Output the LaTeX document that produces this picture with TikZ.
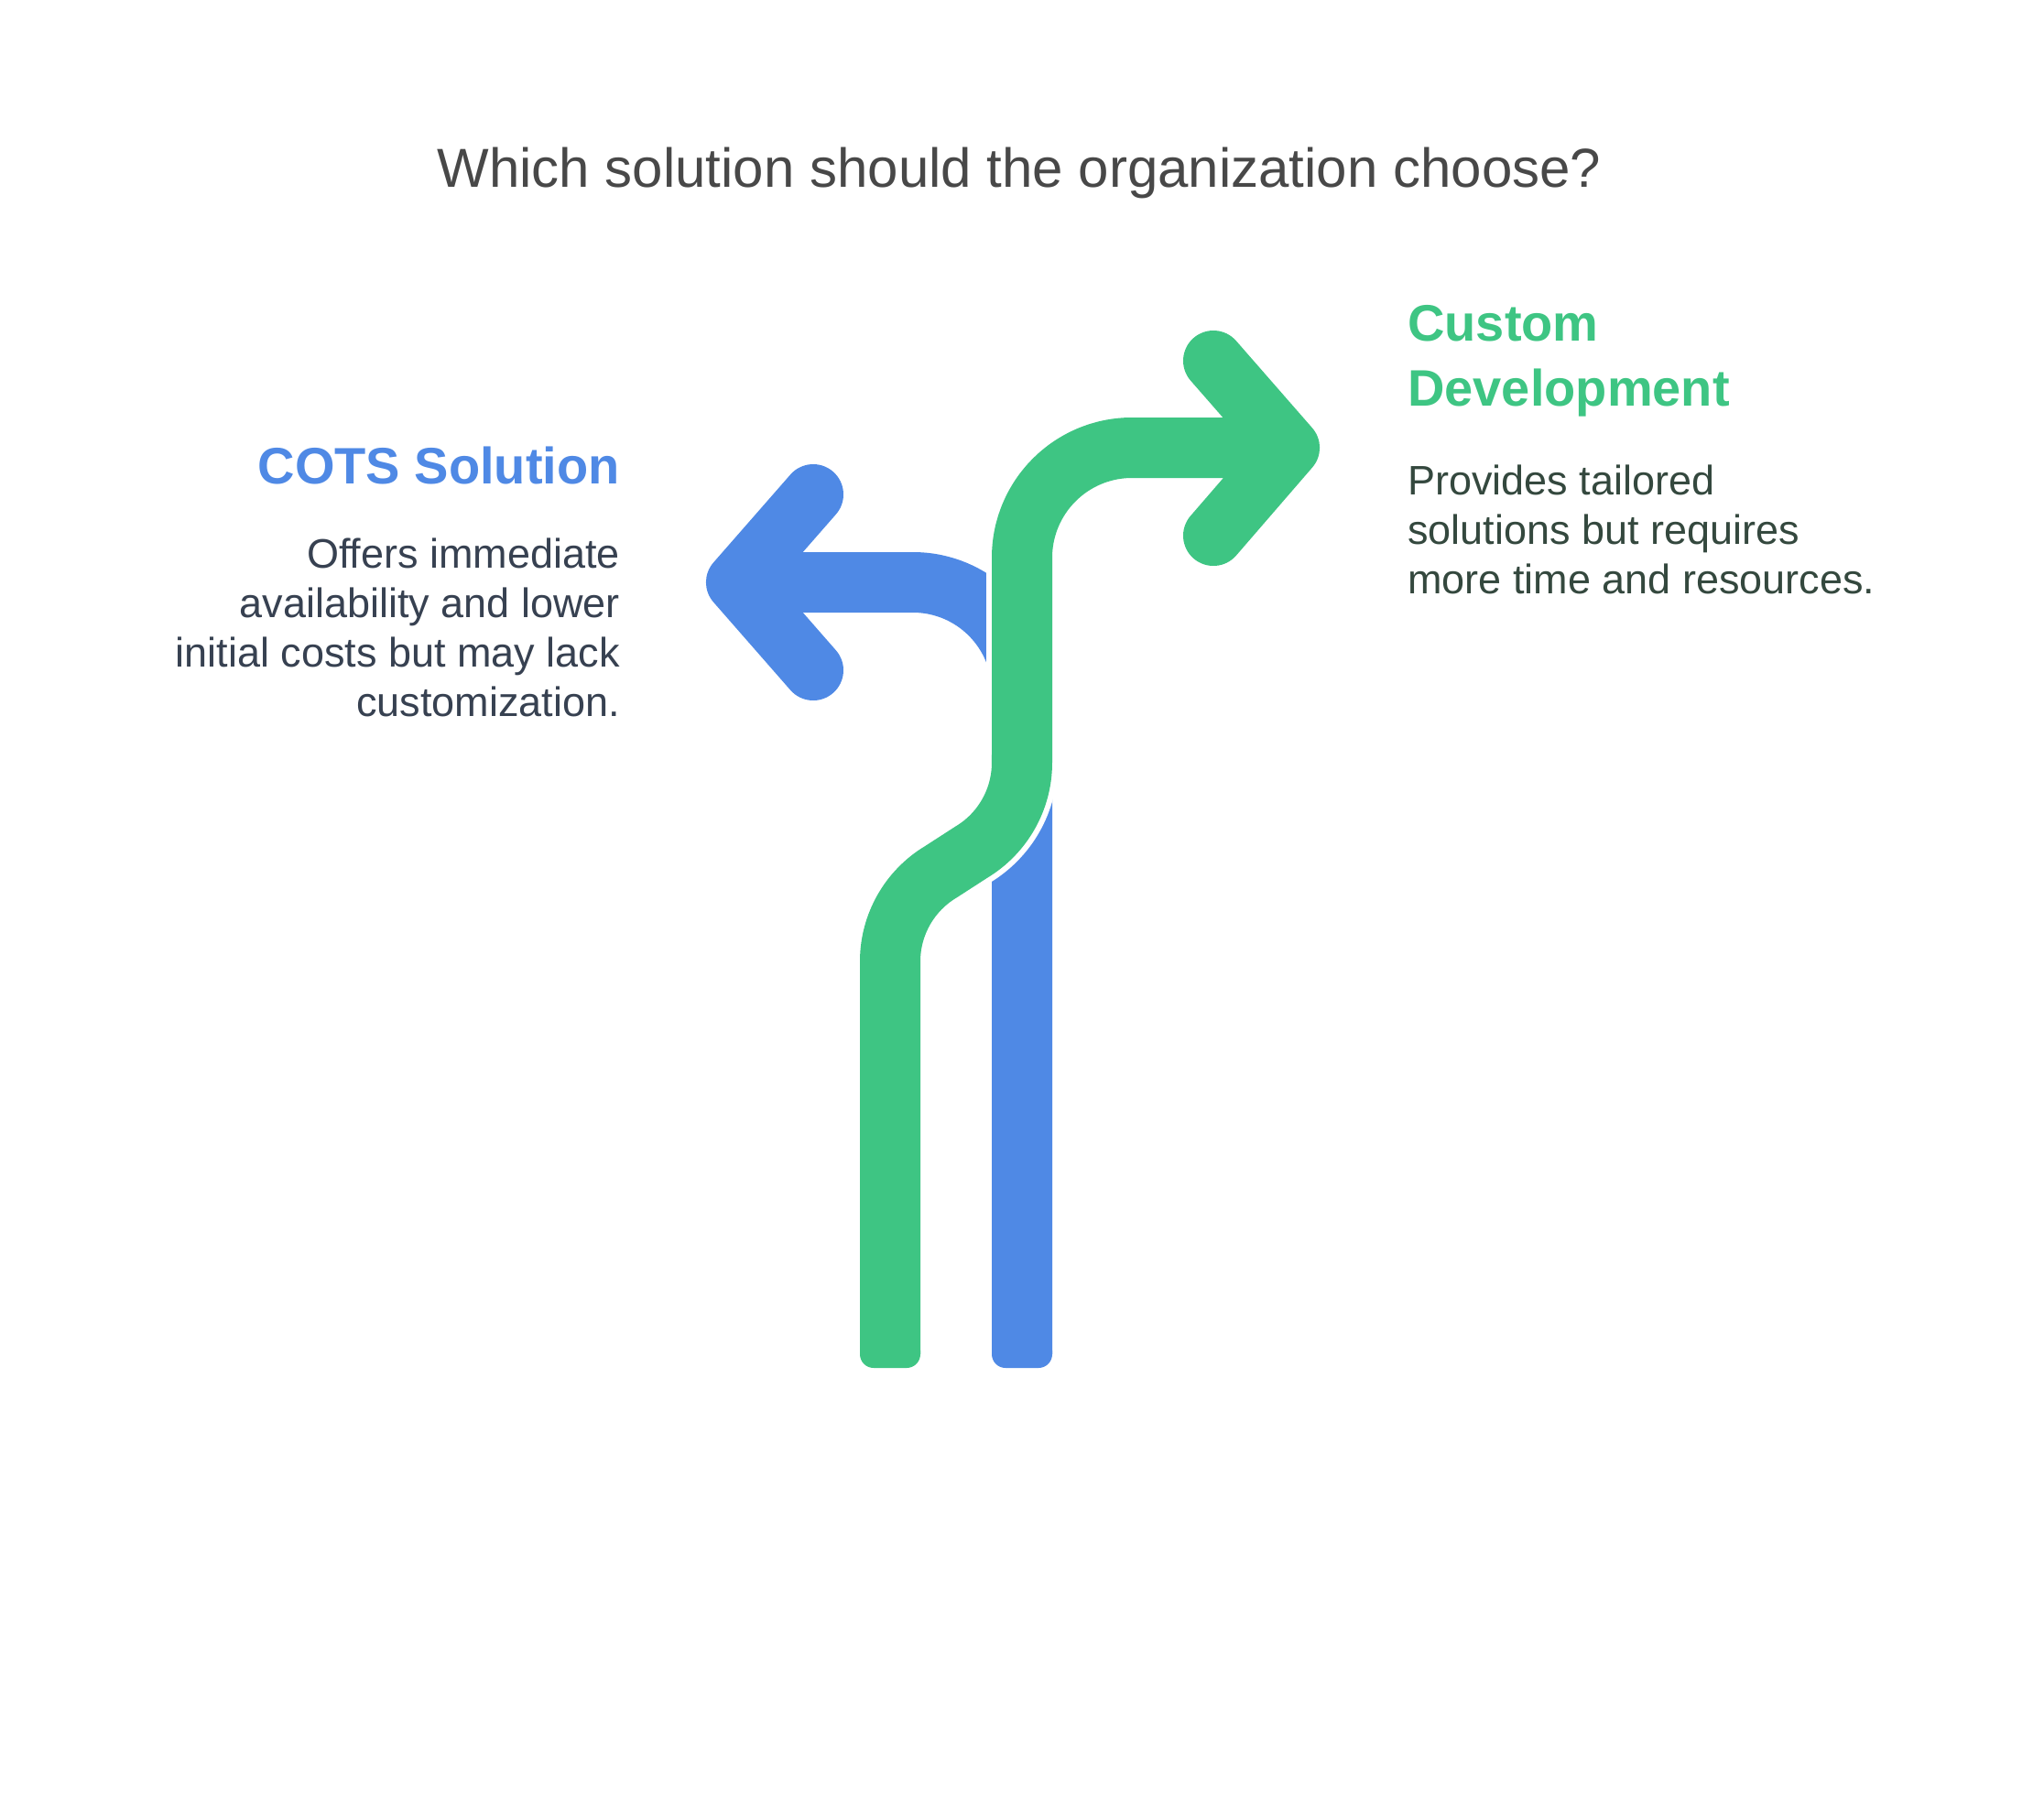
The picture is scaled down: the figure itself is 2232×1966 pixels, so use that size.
\documentclass[tikz,border=0pt]{standalone}
\usepackage{fontspec}
\setmainfont{Liberation Sans}
\usepackage{tikz}
\definecolor{cotsblue}{HTML}{4F89E5}
\definecolor{customgreen}{HTML}{3EC583}
\definecolor{titlegray}{HTML}{484848}
\definecolor{cotsink}{HTML}{374151}
\definecolor{customink}{HTML}{34483E}
\tikzset{
	track/.style={
		line width=66pt,
		line cap=butt,
		line join=round},
	gap/.style={
		draw=white,
		line width=78pt,
		line cap=butt},
	chevron/.style={
		line width=66pt,
		line cap=round,
		line join=round},
	heading/.style={
		inner sep=0pt,
		font=\fontsize{56}{71}\selectfont\bfseries},
	bodytext/.style={
		inner sep=0pt,
		font=\fontsize{45}{54}\selectfont}
}

\begin{document}
\begin{tikzpicture}[x=1pt, y=-1pt]
	\useasboundingbox[fill=white] (0,0) rectangle (2232,1966);

	\node[inner sep=0pt, anchor=base, text=titlegray, font=\fontsize{60}{72}\selectfont] (title) at (1113,204) {Which solution should the organization choose?};

	% blue track: COTS
	\coordinate (bluefoot) at (1116,1479);
	\coordinate (bluetip) at (804,636);
	\draw[track, cotsblue] (bluefoot) -- (1116,755) arc[start angle=0, end angle=-90, radius=119] -- (bluetip);
	\fill[cotsblue, rounded corners=15pt] (1083,1460) rectangle (1149,1494);
	\draw[chevron, cotsblue] (888,540) -- (bluetip) -- (888,732);

	% green track: custom development
	\coordinate (greenfoot) at (972,1479);
	\coordinate (greentip) at (1408,489);
	\draw[gap] (greenfoot) -- (972,1050) arc[start angle=180, end angle=239, radius=114] -- (1060.7,930.7) arc[start angle=59, end angle=0, radius=114] -- (1116,609) arc[start angle=180, end angle=270, radius=120] -- (greentip);
	\draw[track, customgreen] (greenfoot) -- (972,1050) arc[start angle=180, end angle=239, radius=114] -- (1060.7,930.7) arc[start angle=59, end angle=0, radius=114] -- (1116,609) arc[start angle=180, end angle=270, radius=120] -- (greentip);
	\fill[customgreen, rounded corners=15pt] (939,1460) rectangle (1005,1494);
	\draw[chevron, customgreen] (1325,394) -- (greentip) -- (1325,585);

	% labels (base = last line)
	\node[heading, anchor=base east, text=cotsblue] (cots) at (677,528) {COTS Solution};
	\node[bodytext, anchor=base east, align=right, text=cotsink] (cotsdesc) at (677,782) {Offers immediate\\availability and lower\\initial costs but may lack\\customization.};

	\node[heading, anchor=base west, align=left, text=customgreen] (custom) at (1537,443) {Custom\\Development};
	\node[bodytext, anchor=base west, align=left, text=customink] (customdesc) at (1537,648) {Provides tailored\\solutions but requires\\more time and resources.};
\end{tikzpicture}
\end{document}
